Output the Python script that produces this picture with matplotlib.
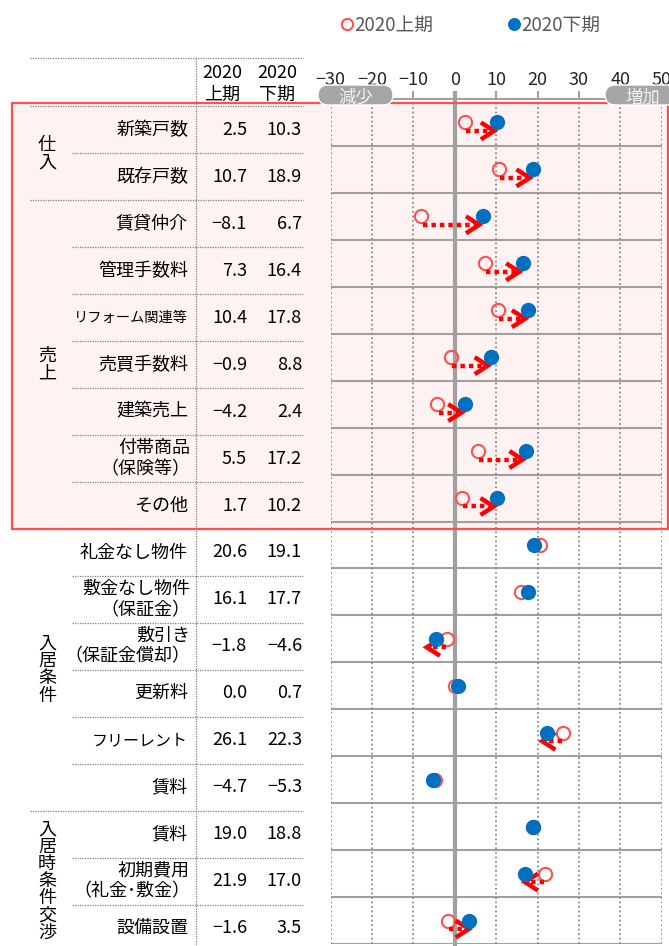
import numpy as np
import matplotlib
matplotlib.use("Agg")
import matplotlib.pyplot as plt
from matplotlib import transforms
from matplotlib.patches import Rectangle, FancyBboxPatch

plt.rcParams["font.family"] = ["Noto Sans CJK JP", "DejaVu Sans"]

# data (DI, 2020 first half vs second half)
items = [
    "新築戸数", "既存戸数", "賃貸仲介", "管理手数料", "リフォーム関連等",
    "売買手数料", "建築売上", "付帯商品\n（保険等）", "その他",
    "礼金なし物件", "敷金なし物件\n（保証金）", "敷引き\n（保証金償却）",
    "更新料", "フリーレント", "賃料",
    "賃料", "初期費用\n（礼金･敷金）", "設備設置",
]
first_half = [2.5, 10.7, -8.1, 7.3, 10.4, -0.9, -4.2, 5.5, 1.7,
              20.6, 16.1, -1.8, 0.0, 26.1, -4.7,
              19.0, 21.9, -1.6]
second_half = [10.3, 18.9, 6.7, 16.4, 17.8, 8.8, 2.4, 17.2, 10.2,
               19.1, 17.7, -4.6, 0.7, 22.3, -5.3,
               18.8, 17.0, 3.5]
group_names = ["仕入", "売上", "入居条件", "入居時条件交渉"]
group_sizes = [2, 7, 6, 3]
highlight_rows = 9  # 仕入 + 売上 in the pink box
ticks = [-30, -20, -10, 0, 10, 20, 30, 40, 50]
series_names = ["2020上期", "2020下期"]

GRAY = "#a0a0a0"
DOT_GRAY = "#8c8c8c"
RED_OPEN = "#ff5050"
BLUE = "#0070c0"
ARROW_RED = "#ff0000"
FS = 13

W, H = 669, 946
fig = plt.figure(figsize=(W / 100, H / 100), dpi=100)

# background layer in pixel units (table, pink box)
bg = fig.add_axes([0, 0, 1, 1], zorder=0)
bg.set_xlim(0, W)
bg.set_ylim(H, 0)
bg.axis("off")

n = len(items)
ax = fig.add_axes([330.7 / W, 1 - 944 / H, 331 / W, 845 / H], zorder=1)
ax.set_facecolor("none")
ax.set_xlim(-30, 50)
ax.set_ylim(n, 0)

fg = fig.add_axes([0, 0, 1, 1], zorder=2)
fg.set_xlim(0, W)
fg.set_ylim(H, 0)
fg.axis("off")

# table rows sit a few pixels below the chart rows
ty = transforms.offset_copy(ax.transData, fig=fig, x=0, y=-7.5, units="dots")
tbl = transforms.blended_transform_factory(bg.transData, ty)

# pink highlight box
bg.add_patch(Rectangle((12, -0.07), 656, highlight_rows + 0.07, transform=tbl,
                       fc="#fff2f2", ec="none"))
fg.add_patch(Rectangle((12, -0.07), 656, highlight_rows + 0.07, transform=tbl,
                       fill=False, ec=RED_OPEN, lw=1.6))

# table grid
dot = dict(color="#7f7f7f", lw=0.9, ls=(0, (1, 1)))
bg.plot([30, 303], [58, 58], **dot)
bg.plot([196, 196], [58, H], **dot)
group_starts = np.cumsum([0] + group_sizes[:-1])
for b in range(n):
    x0 = 30 if b in group_starts else 72
    bg.plot([x0, 303], [b, b], transform=tbl, **dot)

# header
bg.text(222, 84, "2020\n上期", ha="center", va="center", fontsize=FS, linespacing=1.25)
bg.text(277, 84, "2020\n下期", ha="center", va="center", fontsize=FS, linespacing=1.25)

shrink = {"リフォーム関連等": 10.3, "フリーレント": 11.5}


def fmt(v):
    return f"{v:.1f}".replace("-", "\u2212")


for i, lab in enumerate(items):
    yc = i + 0.5
    bg.text(190 if "\n" in lab else 188, yc, lab, transform=tbl, ha="right",
            va="center", fontsize=shrink.get(lab, FS), linespacing=1.2)
    bg.text(247, yc, fmt(first_half[i]), transform=tbl, ha="right", va="center", fontsize=FS)
    bg.text(302, yc, fmt(second_half[i]), transform=tbl, ha="right", va="center", fontsize=FS)

for name, start, size in zip(group_names, group_starts, group_sizes):
    bg.text(47, start + size / 2, "\n".join(name), transform=tbl, ha="center",
            va="center", fontsize=FS, linespacing=0.95)

# chart axes
ax.set_xticks(ticks)
ax.xaxis.tick_top()
ax.tick_params(axis="x", length=6, width=1.5, color=GRAY, labelsize=13,
               pad=1.0, labelcolor="#262626")
ax.set_yticks([])
for s in ["left", "right", "bottom"]:
    ax.spines[s].set_visible(False)
ax.spines["top"].set_color(GRAY)
ax.spines["top"].set_linewidth(1.5)
ax.grid(axis="x", ls=(0, (1, 1.5)), lw=1.3, color=DOT_GRAY)
ax.hlines(np.arange(1, n + 1), -30, 50, color=GRAY, lw=1.5, zorder=1.5)
ax.axvline(0, ymin=0, ymax=1 + 6 / 845, color=GRAY, lw=3, clip_on=False, zorder=2)

y = np.arange(n) + 0.5
h1, = ax.plot(first_half, y, "o", ls="none", ms=9.5, mfc="none", mec=RED_OPEN,
              mew=1.5, zorder=3, label=series_names[0])
h2, = ax.plot(second_half, y, "o", ls="none", ms=11, color=BLUE, mew=0,
              zorder=5, label=series_names[1])

# dotted arrows for the larger changes
for i, (a, b) in enumerate(zip(first_half, second_half)):
    if abs(b - a) < 2:
        continue
    s = np.sign(b - a)
    yy = i + 0.5 + 0.18
    start = a + s * 0.3
    tip = start + s * max(abs(b - a) - 1.1, 4.7)
    ax.plot([start, tip - s * 1.0], [yy, yy], color=ARROW_RED, lw=3.2,
            ls=(0, (1, 0.9)), dash_capstyle="butt", zorder=4)
    ax.plot([tip - s * 3.2, tip, tip - s * 3.2], [yy - 0.18, yy, yy + 0.18],
            color=ARROW_RED, lw=3.2, solid_joinstyle="miter",
            solid_capstyle="butt", zorder=4)

# 減少 / 増加 pills
for cx, txt in [(355.5, "減少"), (642.5, "増加")]:
    fg.add_patch(FancyBboxPatch((cx - 37.5, 85), 75, 20,
                                boxstyle="round,pad=0,rounding_size=10",
                                fc="#a6a6a6", ec="white", lw=1))
    fg.text(cx, 95.5, txt, ha="center", va="center_baseline", fontsize=12.5,
            color="#f2f2f2")

fig.legend(handles=[h1, h2], loc="center", bbox_to_anchor=(471 / W, 1 - 25 / H),
           ncol=2, frameon=False, fontsize=13.5, labelcolor="#595959",
           handlelength=0.6, handletextpad=0.1, columnspacing=4.0,
           markerscale=0.85)

fig.savefig("out.png", dpi=100)
